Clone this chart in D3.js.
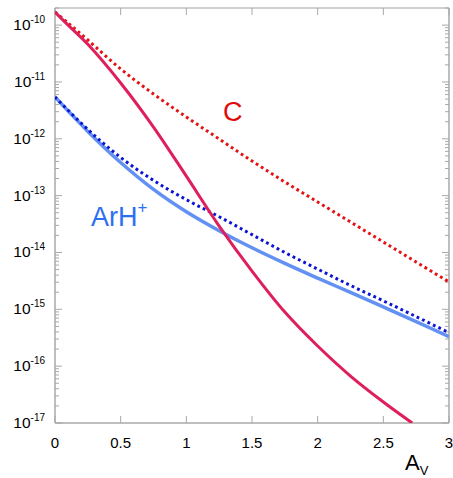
<!DOCTYPE html>
<html>
<head>
<meta charset="utf-8">
<script src="https://cdn.jsdelivr.net/npm/d3@7"></script>
<style>
  body { margin: 0; background: #fff; }
  svg { display: block; font-family: "Liberation Sans", Arial, sans-serif; }
</style>
</head>
<body>
<svg id="chart" width="453" height="478"></svg>
<script>
// DATA
var xTickValues = [0, 0.5, 1, 1.5, 2, 2.5, 3];
var decadeExps = [-17, -16, -15, -14, -13, -12, -11, -10];

// solid crimson curve
var cSolidAv  = [0, 0.1, 0.25, 0.5, 0.75, 1.0, 1.25, 1.5, 1.75, 2.0, 2.25, 2.5, 2.72];
var cSolidVal = [1.70e-10, 1.0e-10, 4.6e-11, 9.6e-12, 1.61e-12, 2.2e-13, 2.92e-14, 4.71e-15, 8.95e-16, 2.26e-16, 6.7e-17, 2.34e-17, 1.0e-17];

// C, red dotted curve
var cDotAv  = [0, 0.1, 0.25, 0.5, 0.75, 1.0, 1.25, 1.5, 1.75, 2.0, 2.25, 2.5, 2.75, 3.0];
var cDotVal = [1.70e-10, 1.09e-10, 5.47e-11, 1.69e-11, 6.14e-12, 2.42e-12, 9.91e-13, 4.06e-13, 1.74e-13, 7.73e-14, 3.44e-14, 1.53e-14, 6.79e-15, 3.03e-15];

// ArH+, light blue solid curve
var arhSolidAv  = [0, 0.25, 0.5, 0.75, 1.0, 1.25, 1.5, 1.75, 2.0, 2.25, 2.5, 2.75, 3.0];
var arhSolidVal = [5.43e-12, 1.35e-12, 3.83e-13, 1.29e-13, 5.22e-14, 2.42e-14, 1.21e-14, 6.43e-15, 3.54e-15, 1.98e-15, 1.10e-15, 6.08e-16, 3.30e-16];

// ArH+, dark blue dotted curve
var arhDotAv  = [0, 0.25, 0.5, 0.75, 1.0, 1.25, 1.5, 1.75, 2.0, 2.25, 2.5, 2.75, 3.0];
var arhDotVal = [5.43e-12, 1.46e-12, 4.69e-13, 1.85e-13, 8.49e-14, 4.26e-14, 2.06e-14, 1.00e-14, 5.10e-15, 2.63e-15, 1.41e-15, 7.44e-16, 3.88e-16];

// LAYOUT
var margin = {top: 8, right: 4, bottom: 55, left: 55};
var width = 453 - margin.left - margin.right;
var height = 478 - margin.top - margin.bottom;

var svg = d3.select("#chart");
var g = svg.append("g").attr("transform", "translate(" + margin.left + "," + margin.top + ")");

var xScale = d3.scaleLinear().domain([0, 3]).range([0, width]);
var yScale = d3.scaleLog().domain([1e-17, 2e-10]).range([height, 0]);

var axisColor = "#a8a8a8";

// minor/major log ticks
var logTicks = [];
decadeExps.forEach(function(e) {
  for (var m = 1; m <= 9; m++) {
    var v = m * Math.pow(10, e);
    if (v >= 1e-17 && v <= 2e-10) logTicks.push({v: v, major: m === 1});
  }
});

// frame
g.append("line").attr("x1", 0).attr("x2", width).attr("y1", 0).attr("y2", 0)
  .attr("stroke", "#d0d0d0").attr("stroke-width", 2);
g.append("line").attr("x1", 0).attr("x2", width).attr("y1", height).attr("y2", height)
  .attr("stroke", axisColor).attr("stroke-width", 1.5);
g.append("line").attr("x1", 0).attr("x2", 0).attr("y1", 0).attr("y2", height)
  .attr("stroke", axisColor).attr("stroke-width", 1.5);
g.append("line").attr("x1", width).attr("x2", width).attr("y1", 0).attr("y2", height)
  .attr("stroke", axisColor).attr("stroke-width", 1.5);

// y ticks left + right (inward)
g.selectAll(".ytl").data(logTicks).enter().append("line")
  .attr("x1", 0).attr("x2", function(d) { return d.major ? 7 : 4; })
  .attr("y1", function(d) { return yScale(d.v); }).attr("y2", function(d) { return yScale(d.v); })
  .attr("stroke", axisColor).attr("stroke-width", 1);
g.selectAll(".ytr").data(logTicks).enter().append("line")
  .attr("x1", width).attr("x2", function(d) { return width - (d.major ? 7 : 4); })
  .attr("y1", function(d) { return yScale(d.v); }).attr("y2", function(d) { return yScale(d.v); })
  .attr("stroke", axisColor).attr("stroke-width", 1);

// x ticks bottom + top (inward)
g.selectAll(".xtb").data(xTickValues).enter().append("line")
  .attr("x1", function(d) { return xScale(d); }).attr("x2", function(d) { return xScale(d); })
  .attr("y1", height).attr("y2", height - 7)
  .attr("stroke", axisColor).attr("stroke-width", 1);
g.selectAll(".xtt").data(xTickValues).enter().append("line")
  .attr("x1", function(d) { return xScale(d); }).attr("x2", function(d) { return xScale(d); })
  .attr("y1", 0).attr("y2", 7)
  .attr("stroke", axisColor).attr("stroke-width", 1);

// y tick labels 10^n
var yl = g.selectAll(".ylab").data(decadeExps).enter().append("text")
  .attr("x", -10).attr("y", function(d) { return yScale(Math.pow(10, d)) + 5; })
  .attr("text-anchor", "end").attr("font-size", 15.5).attr("fill", "#000");
yl.append("tspan").text("10");
yl.append("tspan").attr("dy", -7).attr("font-size", 10).text(function(d) { return "-" + Math.abs(d); });

// x tick labels
g.selectAll(".xlab").data(xTickValues).enter().append("text")
  .attr("x", function(d) { return xScale(d); }).attr("y", height + 25)
  .attr("text-anchor", "middle").attr("font-size", 15).attr("fill", "#000")
  .text(function(d) { return d; });

// axis title A_V
var av = svg.append("text").attr("x", 405).attr("y", 470).attr("font-size", 22).attr("fill", "#000");
av.append("tspan").text("A");
av.append("tspan").attr("dy", 5).attr("font-size", 13).text("V");

// curves
var line = d3.line()
  .x(function(d) { return xScale(d.x); })
  .y(function(d) { return yScale(d.y); })
  .curve(d3.curveCatmullRom.alpha(0.5));

function zip(xs, ys) { return xs.map(function(x, i) { return {x: x, y: ys[i]}; }); }

var clip = svg.append("defs").append("clipPath").attr("id", "plotclip");
clip.append("rect").attr("x", 0).attr("y", 0).attr("width", width).attr("height", height);

var curves = g.append("g").attr("clip-path", "url(#plotclip)");

curves.append("path").datum(zip(arhSolidAv, arhSolidVal))
  .attr("d", line).attr("fill", "none").attr("stroke", "#6391f3").attr("stroke-width", 3.5);
curves.append("path").datum(zip(arhDotAv, arhDotVal))
  .attr("d", line).attr("fill", "none").attr("stroke", "#0a14d2").attr("stroke-width", 3)
  .attr("stroke-dasharray", "2.8,3.2");
curves.append("path").datum(zip(cDotAv, cDotVal))
  .attr("d", line).attr("fill", "none").attr("stroke", "#e41212").attr("stroke-width", 3)
  .attr("stroke-dasharray", "2.8,3.2");
curves.append("path").datum(zip(cSolidAv, cSolidVal))
  .attr("d", line).attr("fill", "none").attr("stroke", "#de1f5c").attr("stroke-width", 3);

// curve labels
svg.append("text").attr("x", 223).attr("y", 121).attr("font-size", 27).attr("fill", "#e00c0c").text("C");
var arh = svg.append("text").attr("x", 91).attr("y", 226).attr("font-size", 27).attr("fill", "#2b70f2");
arh.append("tspan").text("ArH");
arh.append("tspan").attr("dy", -13).attr("font-size", 17).text("+");
</script>
</body>
</html>
